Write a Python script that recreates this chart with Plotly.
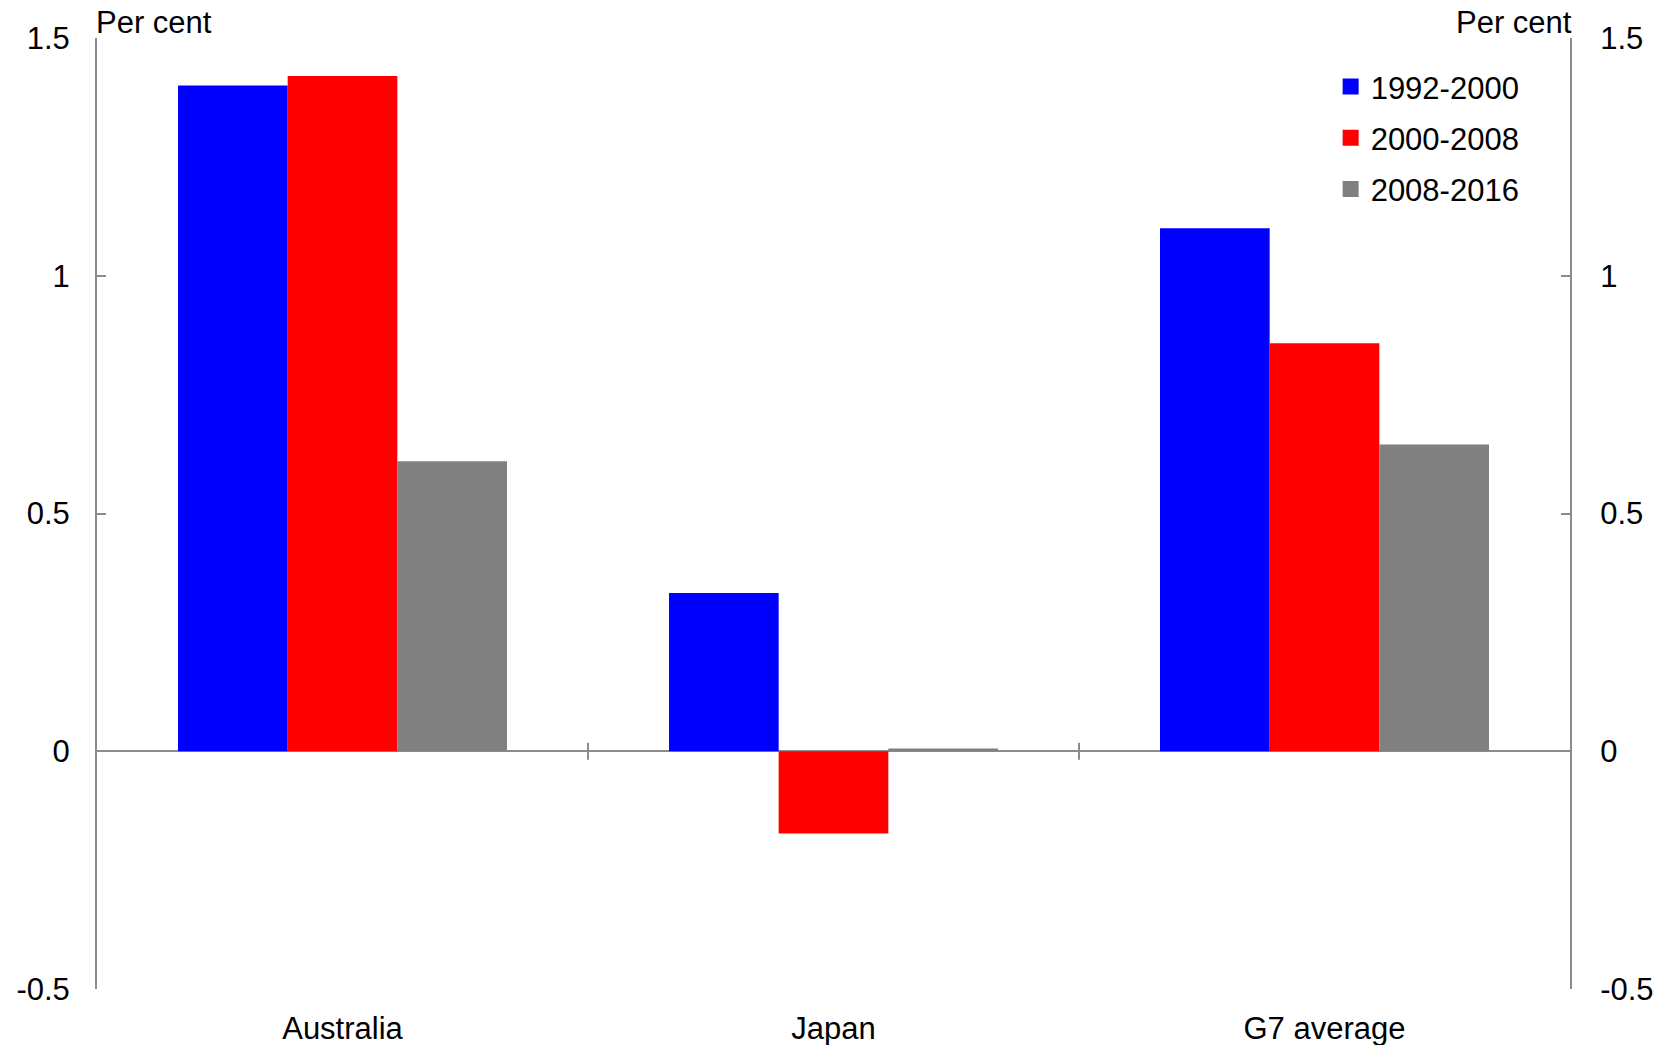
import plotly.graph_objects as go

categories = ["Australia", "Japan", "G7 average"]
series_names = ["1992-2000", "2000-2008", "2008-2016"]
v_1992_2000 = [1.40, 0.333, 1.10]
v_2000_2008 = [1.42, -0.173, 0.858]
v_2008_2016 = [0.61, 0.006, 0.645]
colors = ["#0000ff", "#ff0000", "#808080"]
y_ticks = [-0.5, 0, 0.5, 1, 1.5]
y_ticktext = ["-0.5", "0", "0.5", "1", "1.5"]

FONT = "Liberation Sans, Arial, sans-serif"
FS = 31
AX = "#8c8c8c"

fig = go.Figure()
for name, vals, col in zip(series_names, [v_1992_2000, v_2000_2008, v_2008_2016], colors):
    fig.add_trace(go.Bar(x=categories, y=vals, name=name, showlegend=False,
                         marker=dict(color=col, line=dict(width=0))))

# legend entries (square markers)
for name, col in zip(series_names, colors):
    fig.add_trace(go.Scatter(x=[None], y=[None], mode="markers", name=name,
                             legendgroup=name,
                             marker=dict(symbol="square", size=16, color=col)))

# invisible trace for the right axis
fig.add_trace(go.Scatter(x=categories, y=[None]*3, yaxis="y2", showlegend=False, hoverinfo="skip"))

fig.update_layout(
    width=1673, height=1045,
    margin=dict(l=97, r=103, t=38, b=56),
    plot_bgcolor="white", paper_bgcolor="white",
    barmode="group", bargap=0.33, bargroupgap=0,
    font=dict(family=FONT, size=FS, color="black"),
    xaxis=dict(showline=False, ticks="", showgrid=False, zeroline=False,
               tickfont=dict(size=FS), ticklabelstandoff=18, automargin=False),
    yaxis=dict(range=[-0.5, 1.5], tickvals=y_ticks, ticktext=y_ticktext,
               showgrid=False, zeroline=True, zerolinecolor=AX, zerolinewidth=2,
               showline=True, linecolor=AX, linewidth=2,
               ticks="inside", ticklen=9, tickcolor=AX, tickwidth=2,
               ticklabelstandoff=19, automargin=False),
    yaxis2=dict(range=[-0.5, 1.5], tickvals=y_ticks, ticktext=y_ticktext,
                overlaying="y", side="right", showgrid=False, zeroline=False,
                showline=True, linecolor=AX, linewidth=2,
                ticks="inside", ticklen=9, tickcolor=AX, tickwidth=2,
                ticklabelstandoff=22, automargin=False),
    legend=dict(x=0.8375, y=0.977, xanchor="left", yanchor="top",
                font=dict(size=FS), itemwidth=30, tracegroupgap=8,
                traceorder="grouped", bgcolor="rgba(0,0,0,0)"),
    showlegend=True,
)

# category boundary ticks on the zero line
for xb in [0.5, 1.5]:
    fig.add_shape(type="line", xref="x", yref="y", x0=xb, x1=xb, y0=-0.018, y1=0.018,
                  line=dict(color=AX, width=2))

fig.add_annotation(text="Per cent", xref="paper", yref="paper", x=0, y=1,
                   xanchor="left", yanchor="bottom", showarrow=False,
                   font=dict(size=FS), yshift=-4, xshift=-3)
fig.add_annotation(text="Per cent", xref="paper", yref="paper", x=1, y=1,
                   xanchor="right", yanchor="bottom", showarrow=False,
                   font=dict(size=FS), yshift=-4, xshift=4)

fig.write_html("out.html")
